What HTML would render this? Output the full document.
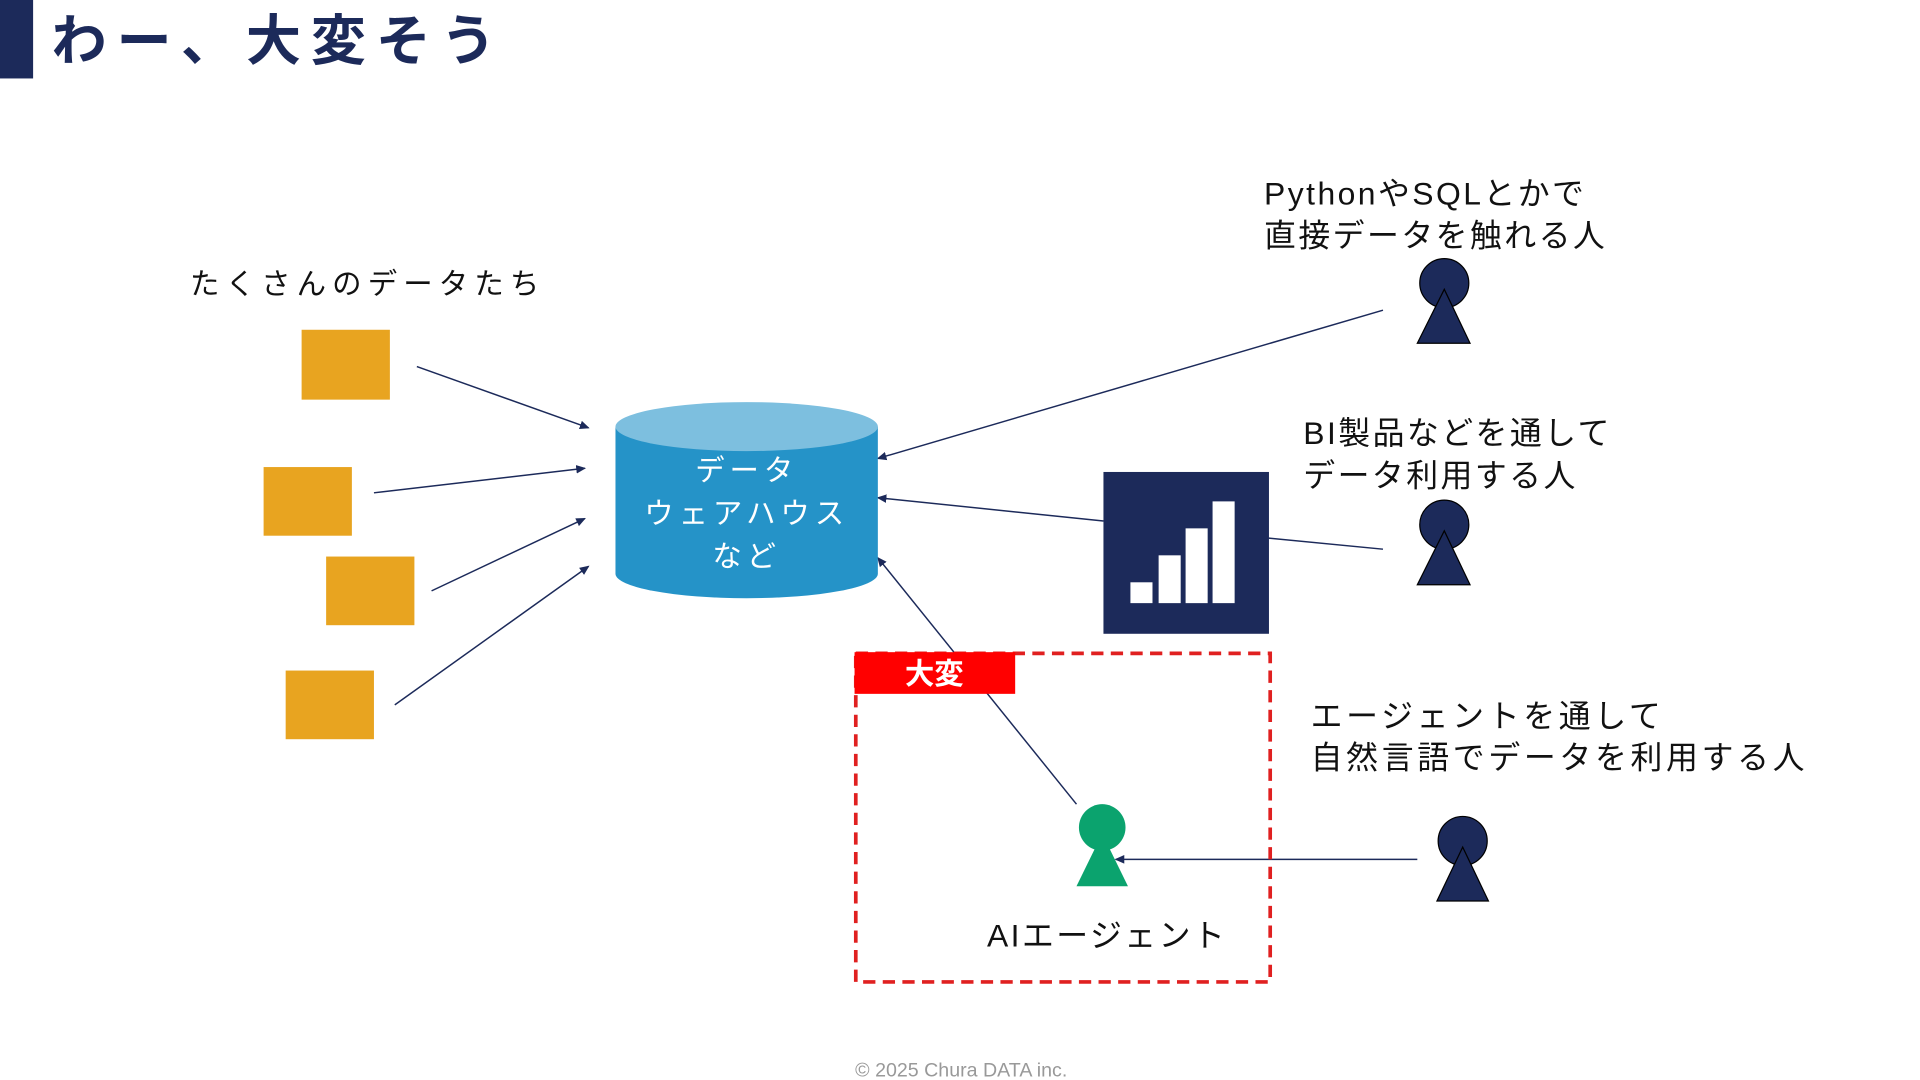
<!DOCTYPE html>
<html><head><meta charset="utf-8"><style>
html,body{margin:0;padding:0;background:#fff;width:1920px;height:1080px;overflow:hidden}
svg{display:block}
text{font-family:"Liberation Sans","Noto Sans CJK JP",sans-serif}
</style></head><body>
<svg width="1920" height="1080" viewBox="0 0 1566 881" preserveAspectRatio="none" xmlns="http://www.w3.org/2000/svg">
<defs>
<marker id="a" markerWidth="8" markerHeight="8" refX="7" refY="4" orient="auto" markerUnits="userSpaceOnUse">
<path d="M0,0.5 L8,4 L0,7.5 z" fill="#1C2A5A"/></marker>
</defs>
<rect x="0" y="0" width="27" height="64" fill="#1C2A5A"/>
<text x="42" y="49" font-size="45" font-weight="bold" fill="#1C2A5A" letter-spacing="8">わー、大変そう</text>

<text x="155" y="240" font-size="24" fill="#111" letter-spacing="5">たくさんのデータたち</text>
<g fill="#E8A420">
<rect x="246" y="269" width="72" height="57"/>
<rect x="215" y="381" width="72" height="56"/>
<rect x="266" y="454" width="72" height="56"/>
<rect x="233" y="547" width="72" height="56"/>
</g>
<g stroke="#1C2A5A" stroke-width="1.2" fill="none" marker-end="url(#a)">
<line x1="340" y1="299" x2="480" y2="349"/>
<line x1="305" y1="402" x2="477" y2="382"/>
<line x1="352" y1="482" x2="477" y2="423"/>
<line x1="322" y1="575" x2="480" y2="462"/>
<line x1="1128" y1="253" x2="716" y2="374"/>
<line x1="900" y1="425" x2="716" y2="406"/>
<line x1="878" y1="656" x2="716" y2="455"/>
<line x1="1156" y1="701" x2="910" y2="701"/>
</g>
<line x1="1128" y1="448" x2="1035" y2="439" stroke="#1C2A5A" stroke-width="1.2"/>

<path d="M502,348 L502,468 A107,20 0 0 0 716,468 L716,348 z" fill="#2593C8"/>
<ellipse cx="609" cy="348" rx="107" ry="20" fill="#7DBFDF"/>
<g fill="#fff" font-size="24" text-anchor="middle" letter-spacing="4">
<text x="609" y="392">データ</text>
<text x="609" y="427">ウェアハウス</text>
<text x="609" y="462">など</text>
</g>

<rect x="900" y="385" width="135" height="132" fill="#1C2A5A"/>
<g fill="#fff">
<rect x="922" y="475" width="18" height="17"/>
<rect x="945" y="453" width="18" height="39"/>
<rect x="967" y="431" width="18" height="61"/>
<rect x="989" y="409" width="18" height="83"/>
</g>

<g fill="#1C2A5A" stroke="#000" stroke-width="1">
<circle cx="1178" cy="231" r="20"/><path d="M1178,236 L1156,280 L1199,280 z"/>
<circle cx="1178" cy="428" r="20"/><path d="M1178,433 L1156,477 L1199,477 z"/>
<circle cx="1193" cy="686" r="20"/><path d="M1193,691 L1172,735 L1214,735 z"/>
</g>

<g font-size="26" fill="#111" letter-spacing="2">
<text x="1031" y="167">PythonやSQLとかで</text>
<text x="1031" y="201">直接データを触れる人</text>
<text x="1063" y="362">BI製品などを通して</text>
<text x="1063" y="397">データ利用する人</text>
<text x="1069" y="593" letter-spacing="3">エージェントを通して</text>
<text x="1069" y="627" letter-spacing="3">自然言語でデータを利用する人</text>
<text x="805" y="772">AIエージェント</text>
</g>

<rect x="698" y="533" width="338" height="268" fill="none" stroke="#E02020" stroke-width="3" stroke-dasharray="10,6"/>
<rect x="697" y="532" width="131" height="34" fill="#FF0000"/>
<text x="762" y="558" font-size="24" font-weight="bold" fill="#fff" text-anchor="middle">大変</text>

<g fill="#0BA36E">
<circle cx="899" cy="675" r="19"/><path d="M899,680 L878,723 L920,723 z"/>
</g>

<text x="784" y="878" font-size="16" fill="#999" text-anchor="middle">© 2025 Chura DATA inc.</text>
</svg>
</body></html>
